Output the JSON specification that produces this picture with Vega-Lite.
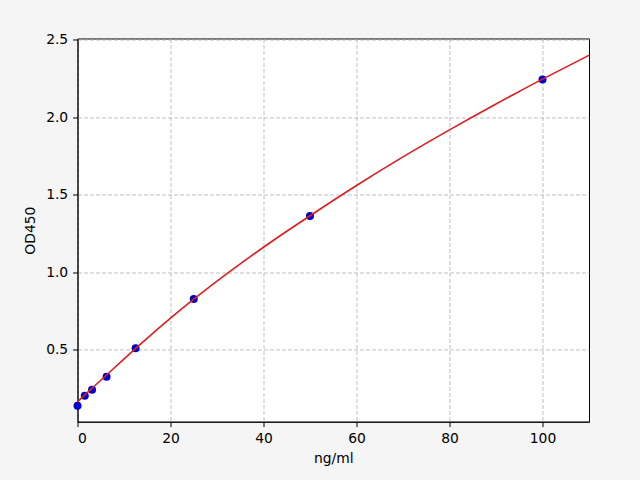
{
  "$schema": "https://vega.github.io/schema/vega-lite/v6.json",
  "autosize": {"type": "none"},
  "padding": {"left": 77.5, "top": 38.5, "right": 51, "bottom": 58},
  "width": 511.5,
  "height": 383.2,
  "background": "#f5f5f5",
  "config": {
    "view": {"stroke": "#000000", "strokeWidth": 1, "fill": "#ffffff"},
    "font": "DejaVu Sans",
    "axis": {
      "labelFont": "DejaVu Sans",
      "titleFont": "DejaVu Sans",
      "labelFontSize": 13.9,
      "titleFontSize": 13.9,
      "titleFontWeight": "normal",
      "labelColor": "#000000",
      "titleColor": "#000000",
      "domainColor": "#000000",
      "tickColor": "#000000",
      "tickSize": 4.9,
      "labelPadding": 4.9,
      "gridColor": "#b0b0b0",
      "gridDash": [4, 2],
      "gridWidth": 0.8
    }
  },
  "datasets": {
    "standards": [
      {"conc": 0, "od": 0.141},
      {"conc": 1.5625, "od": 0.205},
      {"conc": 3.125, "od": 0.243},
      {"conc": 6.25, "od": 0.328},
      {"conc": 12.5, "od": 0.511},
      {"conc": 25, "od": 0.828},
      {"conc": 50, "od": 1.363},
      {"conc": 100, "od": 2.243}
    ],
    "fit": [
      {"conc": 0, "od": 0.166},
      {"conc": 3.125, "od": 0.254},
      {"conc": 6.25, "od": 0.339},
      {"conc": 9.375, "od": 0.425},
      {"conc": 12.5, "od": 0.51},
      {"conc": 20, "od": 0.706},
      {"conc": 25, "od": 0.828},
      {"conc": 30, "od": 0.944},
      {"conc": 35, "od": 1.055},
      {"conc": 40, "od": 1.162},
      {"conc": 45, "od": 1.265},
      {"conc": 50, "od": 1.365},
      {"conc": 60, "od": 1.56},
      {"conc": 70, "od": 1.744},
      {"conc": 80, "od": 1.918},
      {"conc": 90, "od": 2.085},
      {"conc": 100, "od": 2.245},
      {"conc": 110, "od": 2.399}
    ]
  },
  "encoding": {
    "x": {
      "field": "conc",
      "type": "quantitative",
      "title": "ng/ml",
      "scale": {"domain": [0, 110], "nice": false, "zero": false},
      "axis": {"values": [0, 20, 40, 60, 80, 100], "format": "d", "titlePadding": 6}
    },
    "y": {
      "field": "od",
      "type": "quantitative",
      "title": "OD450",
      "scale": {"domain": [0.038, 2.507], "nice": false, "zero": false},
      "axis": {"values": [0.5, 1.0, 1.5, 2.0, 2.5], "format": ".1f", "titlePadding": 8}
    }
  },
  "layer": [
    {
      "data": {"name": "standards"},
      "mark": {"type": "circle", "color": "#0000cc", "size": 64, "opacity": 1}
    },
    {
      "data": {"name": "fit"},
      "mark": {"type": "line", "color": "#dc1e1e", "strokeWidth": 1.6, "interpolate": "monotone"}
    }
  ]
}
